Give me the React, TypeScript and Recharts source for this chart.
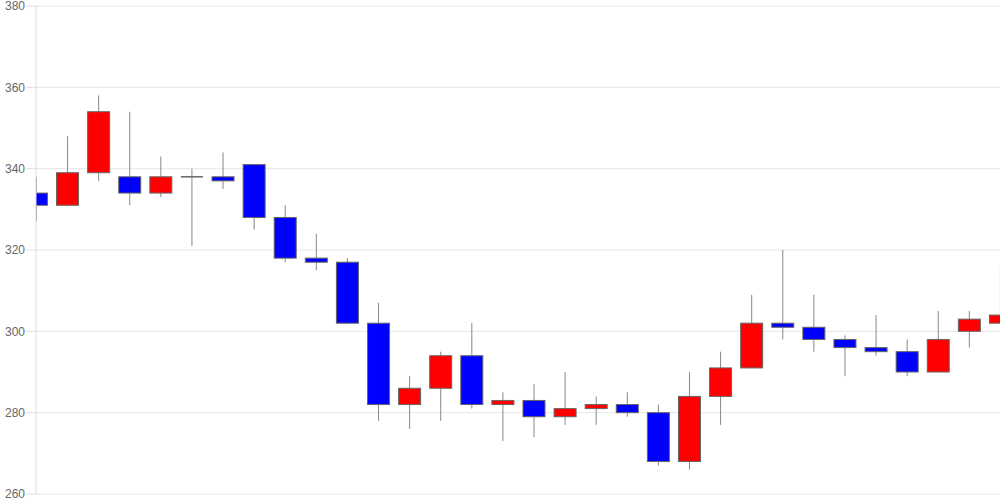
import React from 'react';
import { ComposedChart, Bar, XAxis, YAxis, CartesianGrid } from 'recharts';

const opens = [334, 331, 339, 338, 334, 338, 338, 341, 328, 318, 317, 302, 282, 286, 294, 282, 283, 279, 281, 282, 280, 268, 284, 291, 302, 301, 298, 296, 295, 290, 300, 302];
const highs = [338, 348, 358, 354, 343, 340, 344, 341, 331, 324, 318, 307, 289, 295, 302, 285, 287, 290, 284, 285, 282, 290, 295, 309, 320, 309, 299, 304, 298, 305, 305, 316];
const lows = [327, 331, 337, 331, 333, 321, 335, 325, 317, 315, 302, 278, 276, 278, 281, 273, 274, 277, 277, 279, 267, 266, 277, 291, 298, 295, 289, 294, 289, 290, 296, 300];
const closes = [331, 339, 354, 334, 338, 338, 337, 328, 318, 317, 302, 282, 286, 294, 282, 283, 279, 281, 282, 280, 268, 284, 291, 302, 301, 298, 296, 295, 290, 298, 303, 304];
const yTicks = [260, 280, 300, 320, 340, 360, 380];

const data = opens.map((o, i) => ({
  idx: i,
  open: o,
  high: highs[i],
  low: lows[i],
  close: closes[i],
  range: [lows[i], highs[i]],
}));

const Candle = (props: any) => {
  const { x, y, width, height, payload } = props;
  if (!payload) return null;
  const top = Math.min(y, y + height);
  const bottom = Math.max(y, y + height);
  const { open, close, high, low } = payload;
  const span = high - low || 1;
  const py = (v: number) => top + ((high - v) / span) * (bottom - top);
  const cx = x + width / 2;
  const bTop = py(Math.max(open, close));
  const bBot = py(Math.min(open, close));
  const up = close > open;
  const flat = close === open;
  const fill = flat ? '#555' : up ? '#ff0000' : '#0000ff';
  return (
    <g>
      <line x1={cx} x2={cx} y1={top} y2={bottom} stroke="#888" strokeWidth={1} />
      {flat ? (
        <line x1={cx - 11} x2={cx + 11} y1={bTop} y2={bTop} stroke="#666" strokeWidth={1.5} />
      ) : (
        <rect x={cx - 11} y={bTop} width={22} height={Math.max(1, bBot - bTop)} fill={fill} stroke="#666" strokeWidth={1} />
      )}
    </g>
  );
};

export default function App() {
  return (
    <div style={{ position: 'fixed', left: 0, top: 0, background: '#fff' }}>
      <ComposedChart width={1000} height={500} data={data} margin={{ top: 6, right: 0, bottom: 6, left: 0 }}>
        <CartesianGrid vertical={false} stroke="#e6e6e6" />
        <XAxis dataKey="idx" type="number" domain={[0, 31]} allowDataOverflow hide />
        <YAxis
          domain={[260, 380]}
          ticks={yTicks}
          width={36}
          tickSize={10}
          tickMargin={1}
          axisLine={{ stroke: '#ddd' }}
          tickLine={{ stroke: '#ddd' }}
          tick={{ fill: '#666', fontSize: 12, fontFamily: 'Liberation Sans, Arial, sans-serif' }}
          interval={0}
        />
        <Bar dataKey="range" barSize={22} shape={<Candle />} isAnimationActive={false} />
      </ComposedChart>
    </div>
  );
}
